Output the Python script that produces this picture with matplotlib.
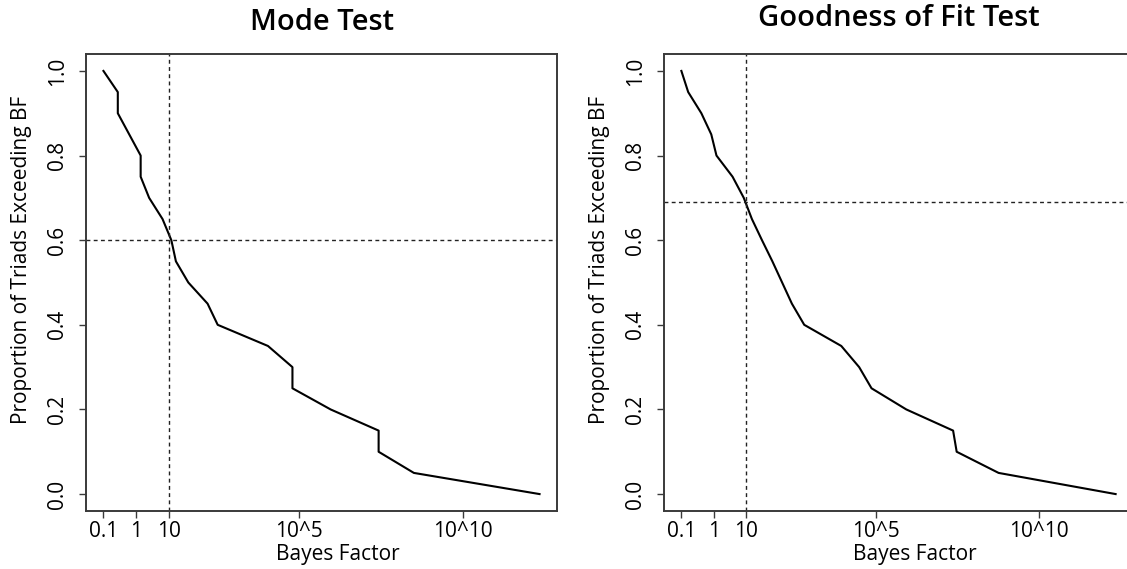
"""
Bayes factor survival curves for the mode and goodness of fit tests
"""

import matplotlib
matplotlib.use('Agg')
import matplotlib.pyplot as plt
import numpy as np

plt.rcParams['font.family'] = ['Open Sans', 'DejaVu Sans']

# proportion of triads whose BF exceeds each sorted value
prop_exceeding = [1.00, 0.95, 0.90, 0.85, 0.80, 0.75, 0.70, 0.65, 0.60, 0.55, 0.50,
                  0.45, 0.40, 0.35, 0.30, 0.25, 0.20, 0.15, 0.10, 0.05, 0.00]

# sorted Bayes factors on log10 scale
mode_log_bf = [-1.00, -0.56, -0.56, -0.21, 0.14, 0.14, 0.40, 0.81, 1.08, 1.22, 1.60,
               2.19, 2.50, 4.04, 4.79, 4.79, 5.96, 7.43, 7.43, 8.51, 12.36]
gof_log_bf = [-1.00, -0.79, -0.385, -0.08, 0.08, 0.575, 0.92, 1.17, 1.48, 1.80, 2.10,
              2.40, 2.78, 3.92, 4.47, 4.85, 5.92, 7.36, 7.47, 8.76, 12.36]

# reference lines: BF = 10 and the proportion reaching it
bf_cutoff = 10
mode_cut_prop = 0.60
gof_cut_prop = 0.69

x_ticks = [0.1, 1, 10, 1e5, 1e10]
x_tick_labels = ['0.1', '1', '10', '10^5', '10^10']
y_ticks = [0.0, 0.2, 0.4, 0.6, 0.8, 1.0]

FRAME = '#3a3a3a'
LABEL_SIZE = 15


def draw_panel(ax, log_bf, cut_prop, title, title_pad):
    bf = np.power(10.0, log_bf)
    ax.plot(bf, prop_exceeding, color='black', linewidth=1.5, solid_joinstyle='round')
    ax.set_xscale('log')
    # R-style 4% padding on both axes
    lo, hi = min(log_bf), max(log_bf)
    pad = 0.04 * (hi - lo)
    ax.set_xlim(10 ** (lo - pad), 10 ** (hi + pad))
    ax.set_ylim(-0.04, 1.04)

    ax.axvline(bf_cutoff, color='#222222', linewidth=1.0, linestyle=(0, (2.8, 2.4)))
    ax.axhline(cut_prop, color='#222222', linewidth=1.0, linestyle=(0, (2.8, 2.4)))

    ax.set_xticks(x_ticks)
    ax.set_xticklabels(x_tick_labels)
    ax.xaxis.set_minor_locator(matplotlib.ticker.NullLocator())
    ax.set_yticks(y_ticks)
    ax.set_yticklabels([f'{v:.1f}' for v in y_ticks], rotation=90, va='center')

    ax.tick_params(direction='out', length=5, width=1.0, color=FRAME,
                   labelsize=LABEL_SIZE, labelcolor='black')
    ax.tick_params(axis='x', pad=2.5)
    ax.tick_params(axis='y', pad=8)
    for sp in ax.spines.values():
        sp.set_color(FRAME)
        sp.set_linewidth(1.4)

    ax.set_title(title, fontsize=21, fontweight='semibold', pad=title_pad)
    ax.set_xlabel('Bayes Factor', fontsize=LABEL_SIZE, va='center')
    ax.set_ylabel('Proportion of Triads Exceeding BF', fontsize=LABEL_SIZE, va='center')
    ax.xaxis.set_label_coords(0.535, -0.096)
    ax.yaxis.set_label_coords(-0.137, 0.549)


fig = plt.figure(figsize=(11.27, 5.69), dpi=100)
W, H = 1127.0, 569.0
ax1 = fig.add_axes([86 / W, 58 / H, 471 / W, 457 / H])
ax2 = fig.add_axes([664 / W, 58 / H, 469 / W, 457 / H])

draw_panel(ax1, mode_log_bf, mode_cut_prop, 'Mode Test', 17)
draw_panel(ax2, gof_log_bf, gof_cut_prop, 'Goodness of Fit Test', 20)

fig.savefig('out.png', dpi=100)
plt.close(fig)
